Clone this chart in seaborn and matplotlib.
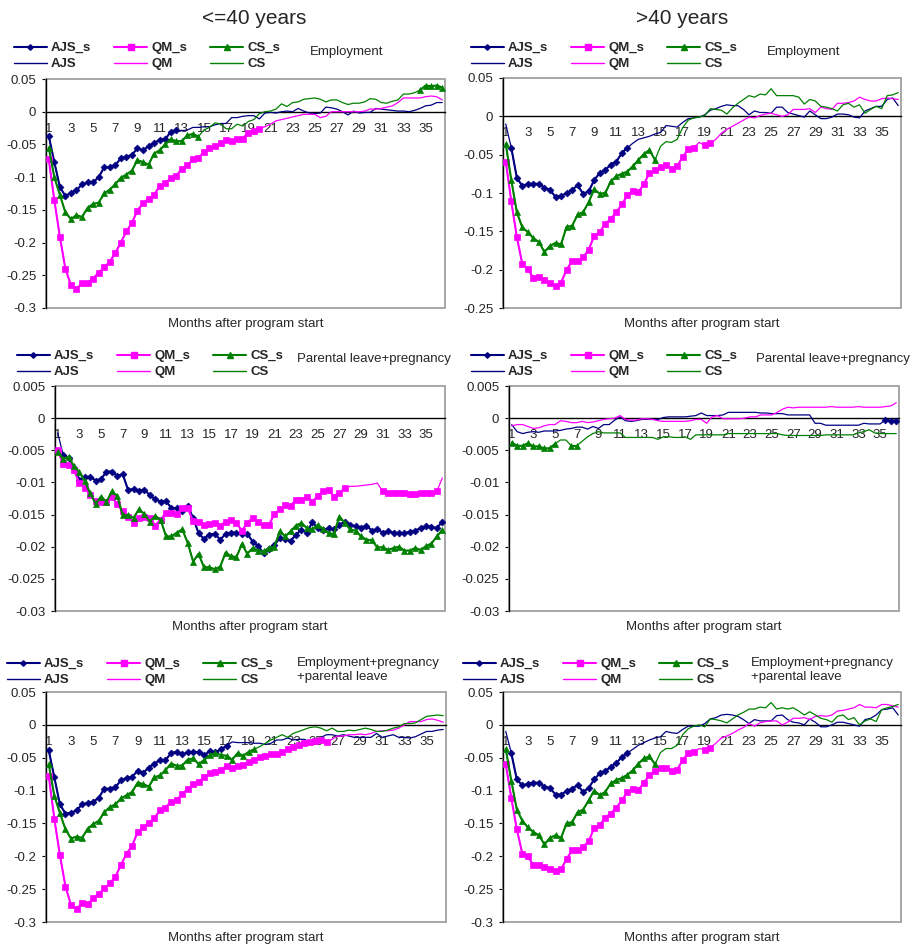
import numpy as np
import matplotlib
matplotlib.use("Agg")
import matplotlib.pyplot as plt
from matplotlib.lines import Line2D
from matplotlib.patches import Rectangle
from matplotlib.ticker import FuncFormatter
import seaborn as sns

# 72 half-month categories, labelled every second month
months = np.arange(1, 37, 0.5)
label_months = list(range(1, 37, 2))

col_titles = ["<=40 years", ">40 years"]
row_titles = ["Employment", "Parental leave+pregnancy", "Employment+pregnancy\n+parental leave"]
xlabel = "Months after program start"

# ---- Employment, <=40 years
emp_young_ajs = [
    -0.037, -0.077, -0.115, -0.129, -0.124, -0.120, -0.111, -0.108, -0.108, -0.100, -0.085, -0.085,
    -0.082, -0.071, -0.069, -0.066, -0.056, -0.059, -0.053, -0.048, -0.043, -0.042, -0.031, -0.028,
    -0.029, -0.028, -0.024, -0.024, -0.023, -0.023, -0.020, -0.018, -0.018, -0.009, -0.009, -0.007,
    -0.006, -0.006, -0.011, -0.002, -0.001, -0.002, 0.000, 0.001, 0.000, 0.005, 0.001, -0.002,
    -0.003, -0.002, 0.007, 0.006, 0.004, 0.000, -0.005, 0.001, -0.002, -0.001, -0.001, 0.005,
    0.004, 0.003, 0.002, 0.001, 0.001, 0.000, 0.002, 0.005, 0.009, 0.010, 0.014, 0.014]
emp_young_qm = [
    -0.073, -0.135, -0.191, -0.240, -0.265, -0.271, -0.262, -0.262, -0.255, -0.246, -0.238, -0.229,
    -0.216, -0.200, -0.183, -0.170, -0.151, -0.140, -0.133, -0.127, -0.114, -0.109, -0.102, -0.098,
    -0.087, -0.082, -0.073, -0.070, -0.062, -0.056, -0.052, -0.048, -0.043, -0.045, -0.041, -0.041,
    -0.032, -0.029, -0.026, -0.023, -0.019, -0.014, -0.012, -0.010, -0.008, -0.006, -0.004, -0.004,
    -0.004, -0.009, -0.007, 0.000, 0.000, 0.000, 0.000, 0.000, 0.000, 0.001, 0.004, 0.004,
    0.005, 0.007, 0.009, 0.014, 0.021, 0.021, 0.021, 0.021, 0.023, 0.024, 0.023, 0.018]
emp_young_cs = [
    -0.055, -0.100, -0.127, -0.154, -0.164, -0.158, -0.161, -0.147, -0.141, -0.139, -0.125, -0.119,
    -0.111, -0.101, -0.096, -0.090, -0.074, -0.077, -0.081, -0.064, -0.059, -0.050, -0.042, -0.045,
    -0.045, -0.036, -0.034, -0.038, -0.028, -0.024, -0.017, -0.019, -0.026, -0.026, -0.019, -0.022,
    -0.015, -0.012, -0.003, 0.000, 0.001, 0.004, 0.012, 0.008, 0.014, 0.015, 0.019, 0.020,
    0.021, 0.019, 0.015, 0.018, 0.018, 0.014, 0.011, 0.013, 0.013, 0.015, 0.020, 0.019,
    0.014, 0.013, 0.016, 0.018, 0.027, 0.027, 0.029, 0.033, 0.040, 0.039, 0.040, 0.037]
emp_young_sig = [[(0, 23)], [(0, 38)], [(0, 27), (67, 71)]]

# ---- Employment, >40 years
emp_old_ajs = [
    -0.010, -0.041, -0.080, -0.091, -0.088, -0.088, -0.088, -0.093, -0.096, -0.105, -0.104, -0.100,
    -0.096, -0.090, -0.101, -0.098, -0.083, -0.074, -0.070, -0.063, -0.059, -0.048, -0.041, -0.035,
    -0.030, -0.028, -0.026, -0.023, -0.021, -0.012, -0.013, -0.014, -0.008, -0.003, -0.002, -0.001,
    0.002, 0.008, 0.010, 0.013, 0.015, 0.014, 0.014, 0.009, 0.002, 0.007, 0.005, 0.005,
    0.004, 0.012, 0.012, 0.005, 0.003, 0.001, -0.001, 0.007, 0.002, -0.003, -0.003, -0.001,
    0.003, 0.003, 0.002, -0.001, -0.002, 0.007, 0.010, 0.013, 0.013, 0.022, 0.024, 0.014]
emp_old_qm = [
    -0.059, -0.111, -0.157, -0.193, -0.199, -0.211, -0.210, -0.214, -0.218, -0.221, -0.217, -0.200,
    -0.189, -0.189, -0.184, -0.174, -0.156, -0.151, -0.140, -0.134, -0.125, -0.115, -0.103, -0.097,
    -0.099, -0.088, -0.074, -0.070, -0.066, -0.063, -0.069, -0.065, -0.053, -0.043, -0.041, -0.034,
    -0.038, -0.035, -0.030, -0.022, -0.017, -0.013, -0.009, -0.005, -0.001, -0.002, 0.001, 0.003,
    0.004, 0.002, 0.000, 0.002, 0.009, 0.009, 0.009, 0.010, 0.005, 0.012, 0.010, 0.009,
    0.017, 0.017, 0.018, 0.020, 0.025, 0.022, 0.020, 0.020, 0.023, 0.024, 0.023, 0.022]
emp_old_cs = [
    -0.036, -0.083, -0.125, -0.145, -0.151, -0.159, -0.164, -0.177, -0.169, -0.165, -0.167, -0.144,
    -0.143, -0.128, -0.125, -0.112, -0.095, -0.101, -0.100, -0.085, -0.078, -0.075, -0.072, -0.065,
    -0.057, -0.049, -0.044, -0.057, -0.039, -0.033, -0.034, -0.030, -0.015, -0.005, -0.002, -0.001,
    0.001, 0.010, 0.009, 0.008, 0.003, 0.011, 0.017, 0.022, 0.027, 0.025, 0.029, 0.028,
    0.036, 0.027, 0.027, 0.027, 0.027, 0.025, 0.016, 0.022, 0.020, 0.013, 0.012, 0.010,
    0.007, 0.015, 0.017, 0.012, 0.015, 0.004, 0.009, 0.013, 0.010, 0.027, 0.028, 0.031]
emp_old_sig = [[(1, 22)], [(0, 34), (36, 37)], [(0, 27)]]

# ---- Parental leave+pregnancy, <=40 years
par_young_ajs = [
    -0.0023, -0.0057, -0.0062, -0.0078, -0.0096, -0.0092, -0.0091, -0.0097, -0.0095, -0.0083, -0.0083, -0.0090,
    -0.0087, -0.0112, -0.0110, -0.0113, -0.0111, -0.0120, -0.0126, -0.0130, -0.0129, -0.0140, -0.0140, -0.0144,
    -0.0137, -0.0155, -0.0179, -0.0188, -0.0181, -0.0180, -0.0189, -0.0180, -0.0178, -0.0178, -0.0180, -0.0180,
    -0.0192, -0.0199, -0.0210, -0.0204, -0.0197, -0.0187, -0.0188, -0.0191, -0.0181, -0.0174, -0.0178, -0.0162,
    -0.0171, -0.0174, -0.0171, -0.0173, -0.0166, -0.0161, -0.0166, -0.0168, -0.0171, -0.0167, -0.0175, -0.0173,
    -0.0178, -0.0176, -0.0178, -0.0179, -0.0179, -0.0177, -0.0175, -0.0171, -0.0168, -0.0169, -0.0171, -0.0161]
par_young_qm = [
    -0.0049, -0.0072, -0.0073, -0.0081, -0.0101, -0.0109, -0.0119, -0.0129, -0.0131, -0.0130, -0.0122, -0.0134,
    -0.0145, -0.0153, -0.0163, -0.0155, -0.0154, -0.0155, -0.0167, -0.0158, -0.0147, -0.0148, -0.0149, -0.0140,
    -0.0140, -0.0160, -0.0162, -0.0166, -0.0165, -0.0163, -0.0167, -0.0161, -0.0158, -0.0163, -0.0175, -0.0163,
    -0.0155, -0.0161, -0.0166, -0.0166, -0.0149, -0.0142, -0.0135, -0.0136, -0.0127, -0.0127, -0.0122, -0.0130,
    -0.0121, -0.0114, -0.0112, -0.0122, -0.0116, -0.0109, -0.0106, -0.0106, -0.0105, -0.0104, -0.0103, -0.0101,
    -0.0114, -0.0116, -0.0117, -0.0117, -0.0117, -0.0118, -0.0118, -0.0117, -0.0117, -0.0116, -0.0114, -0.0093]
par_young_cs = [
    -0.0052, -0.0064, -0.0060, -0.0075, -0.0084, -0.0098, -0.0117, -0.0133, -0.0122, -0.0130, -0.0114, -0.0121,
    -0.0151, -0.0151, -0.0155, -0.0142, -0.0149, -0.0161, -0.0152, -0.0158, -0.0184, -0.0184, -0.0178, -0.0173,
    -0.0194, -0.0223, -0.0211, -0.0232, -0.0232, -0.0235, -0.0231, -0.0209, -0.0215, -0.0216, -0.0196, -0.0211,
    -0.0202, -0.0206, -0.0207, -0.0202, -0.0200, -0.0176, -0.0184, -0.0176, -0.0167, -0.0163, -0.0171, -0.0173,
    -0.0166, -0.0172, -0.0179, -0.0180, -0.0153, -0.0163, -0.0173, -0.0175, -0.0184, -0.0189, -0.0190, -0.0201,
    -0.0201, -0.0205, -0.0202, -0.0200, -0.0206, -0.0206, -0.0202, -0.0205, -0.0199, -0.0195, -0.0184, -0.0174]
par_young_sig = [[(1, 71)], [(0, 53), (60, 70)], [(0, 71)]]

# ---- Parental leave+pregnancy, >40 years
par_old_ajs = [
    -0.0010, -0.0021, -0.0024, -0.0022, -0.0021, -0.0022, -0.0020, -0.0020, -0.0020, -0.0019, -0.0017, -0.0016,
    -0.0014, -0.0014, -0.0017, -0.0013, -0.0016, -0.0010, -0.0010, -0.0003, 0.0002, -0.0004, -0.0005, -0.0004,
    -0.0002, -0.0002, -0.0002, -0.0002, 0.0001, 0.0002, 0.0002, 0.0002, 0.0002, 0.0003, 0.0004, 0.0008,
    0.0004, 0.0004, 0.0004, 0.0005, 0.0009, 0.0009, 0.0009, 0.0009, 0.0009, 0.0009, 0.0008, 0.0008,
    0.0007, 0.0007, 0.0007, 0.0005, 0.0005, 0.0005, 0.0005, 0.0005, -0.0008, -0.0008, -0.0011, -0.0011,
    -0.0011, -0.0011, -0.0011, -0.0011, -0.0011, -0.0008, -0.0009, -0.0009, -0.0009, -0.0003, -0.0004, -0.0004]
par_old_qm = [
    -0.0012, -0.0010, -0.0010, -0.0013, -0.0016, -0.0015, -0.0012, -0.0010, -0.0010, -0.0004, -0.0005, -0.0007,
    -0.0007, -0.0005, -0.0007, -0.0006, -0.0004, -0.0002, -0.0001, 0.0000, 0.0004, -0.0002, -0.0003, -0.0003,
    -0.0001, -0.0001, -0.0002, -0.0004, -0.0005, -0.0005, -0.0005, -0.0005, -0.0005, -0.0004, -0.0002, -0.0002,
    -0.0008, 0.0002, 0.0004, -0.0001, -0.0001, -0.0001, -0.0001, 0.0000, 0.0002, 0.0002, 0.0005, 0.0005,
    0.0005, 0.0009, 0.0014, 0.0017, 0.0016, 0.0017, 0.0017, 0.0017, 0.0017, 0.0017, 0.0017, 0.0018,
    0.0017, 0.0017, 0.0017, 0.0017, 0.0018, 0.0017, 0.0017, 0.0017, 0.0017, 0.0018, 0.0019, 0.0024]
par_old_cs = [
    -0.0038, -0.0043, -0.0043, -0.0039, -0.0044, -0.0044, -0.0047, -0.0047, -0.0040, -0.0034, -0.0034, -0.0043,
    -0.0043, -0.0036, -0.0029, -0.0024, -0.0021, -0.0023, -0.0023, -0.0023, -0.0023, -0.0030, -0.0030, -0.0030,
    -0.0030, -0.0030, -0.0030, -0.0033, -0.0029, -0.0029, -0.0030, -0.0030, -0.0029, -0.0033, -0.0026, -0.0026,
    -0.0026, -0.0026, -0.0026, -0.0026, -0.0024, -0.0024, -0.0024, -0.0024, -0.0024, -0.0024, -0.0024, -0.0024,
    -0.0024, -0.0024, -0.0026, -0.0027, -0.0027, -0.0027, -0.0027, -0.0027, -0.0027, -0.0027, -0.0026, -0.0026,
    -0.0026, -0.0026, -0.0026, -0.0026, -0.0023, -0.0021, -0.0018, -0.0023, -0.0024, -0.0024, -0.0024, -0.0024]
par_old_sig = [[(69, 71)], [], [(0, 8), (11, 12)]]

# ---- Employment+pregnancy+parental leave, <=40 years
all_young_ajs = [
    -0.039, -0.080, -0.121, -0.135, -0.134, -0.130, -0.121, -0.119, -0.117, -0.111, -0.097, -0.097,
    -0.095, -0.084, -0.081, -0.079, -0.070, -0.073, -0.065, -0.059, -0.054, -0.054, -0.043, -0.041,
    -0.045, -0.042, -0.041, -0.042, -0.046, -0.040, -0.042, -0.037, -0.032, -0.026, -0.027, -0.027,
    -0.027, -0.028, -0.028, -0.030, -0.028, -0.023, -0.023, -0.020, -0.023, -0.022, -0.022, -0.026,
    -0.023, -0.019, -0.015, -0.015, -0.017, -0.015, -0.017, -0.019, -0.019, -0.019, -0.019, -0.013,
    -0.019, -0.017, -0.015, -0.019, -0.019, -0.020, -0.018, -0.014, -0.010, -0.010, -0.008, -0.007]
all_young_qm = [
    -0.078, -0.143, -0.198, -0.246, -0.274, -0.280, -0.271, -0.273, -0.264, -0.257, -0.249, -0.241,
    -0.231, -0.213, -0.196, -0.184, -0.163, -0.156, -0.149, -0.142, -0.130, -0.126, -0.117, -0.115,
    -0.105, -0.098, -0.090, -0.087, -0.079, -0.074, -0.071, -0.068, -0.063, -0.065, -0.063, -0.061,
    -0.056, -0.053, -0.049, -0.047, -0.045, -0.045, -0.042, -0.037, -0.034, -0.031, -0.028, -0.026,
    -0.024, -0.023, -0.026, -0.022, -0.017, -0.017, -0.015, -0.015, -0.014, -0.015, -0.013, -0.010,
    -0.009, -0.009, -0.008, -0.005, 0.000, 0.005, 0.005, 0.005, 0.008, 0.009, 0.007, 0.004]
all_young_cs = [
    -0.060, -0.108, -0.134, -0.159, -0.173, -0.170, -0.172, -0.158, -0.151, -0.146, -0.133, -0.125,
    -0.121, -0.112, -0.107, -0.102, -0.088, -0.090, -0.094, -0.080, -0.077, -0.069, -0.059, -0.062,
    -0.062, -0.053, -0.051, -0.060, -0.053, -0.046, -0.043, -0.046, -0.047, -0.053, -0.043, -0.047,
    -0.041, -0.037, -0.033, -0.028, -0.023, -0.019, -0.015, -0.019, -0.013, -0.010, -0.007, -0.004,
    -0.003, -0.005, -0.009, -0.005, -0.010, -0.010, -0.008, -0.009, -0.007, -0.005, -0.007, -0.010,
    -0.010, -0.008, -0.005, -0.003, 0.002, 0.002, 0.003, 0.008, 0.013, 0.014, 0.015, 0.014]
all_young_sig = [[(0, 32)], [(0, 50)], [(0, 37)]]

# ---- Employment+pregnancy+parental leave, >40 years
all_old_ajs = [
    -0.010, -0.043, -0.083, -0.092, -0.090, -0.088, -0.088, -0.094, -0.096, -0.106, -0.106, -0.101,
    -0.097, -0.092, -0.102, -0.096, -0.083, -0.074, -0.070, -0.064, -0.058, -0.049, -0.043, -0.037,
    -0.031, -0.027, -0.023, -0.020, -0.018, -0.010, -0.012, -0.013, -0.007, -0.002, -0.002, -0.002,
    0.002, 0.009, 0.011, 0.015, 0.016, 0.015, 0.013, 0.008, 0.002, 0.008, 0.006, 0.006,
    0.006, 0.014, 0.015, 0.008, 0.004, 0.003, 0.000, 0.009, 0.004, -0.003, -0.003, 0.000,
    0.004, 0.004, 0.002, 0.000, -0.002, 0.008, 0.010, 0.015, 0.023, 0.024, 0.026, 0.015]
all_old_qm = [
    -0.060, -0.111, -0.159, -0.196, -0.200, -0.214, -0.213, -0.217, -0.219, -0.222, -0.220, -0.204,
    -0.191, -0.191, -0.186, -0.177, -0.157, -0.153, -0.141, -0.135, -0.126, -0.115, -0.102, -0.097,
    -0.099, -0.088, -0.076, -0.070, -0.066, -0.065, -0.070, -0.068, -0.054, -0.043, -0.041, -0.036,
    -0.038, -0.035, -0.028, -0.020, -0.017, -0.013, -0.008, -0.004, 0.002, -0.002, 0.003, 0.005,
    0.006, 0.006, 0.000, 0.004, 0.010, 0.010, 0.011, 0.008, 0.013, 0.014, 0.013, 0.015,
    0.021, 0.022, 0.024, 0.026, 0.031, 0.027, 0.027, 0.026, 0.031, 0.031, 0.029, 0.027]
all_old_cs = [
    -0.037, -0.085, -0.129, -0.146, -0.156, -0.163, -0.168, -0.182, -0.172, -0.168, -0.172, -0.150,
    -0.148, -0.133, -0.129, -0.115, -0.100, -0.107, -0.102, -0.089, -0.084, -0.081, -0.076, -0.069,
    -0.059, -0.051, -0.048, -0.060, -0.042, -0.036, -0.036, -0.031, -0.015, -0.006, -0.002, 0.000,
    -0.003, 0.009, 0.008, 0.006, 0.003, 0.009, 0.015, 0.019, 0.024, 0.024, 0.027, 0.026,
    0.034, 0.024, 0.026, 0.024, 0.026, 0.021, 0.015, 0.020, 0.015, 0.010, 0.008, 0.004,
    0.013, 0.015, 0.008, 0.011, 0.000, 0.006, 0.009, 0.005, 0.023, 0.026, 0.028, 0.031]
all_old_sig = [[(1, 22)], [(0, 34), (36, 37)], [(0, 27)]]

# ---------------------------------------------------------------- styling
sns.set_style("white")
plt.rcParams["font.family"] = ["Liberation Sans", "DejaVu Sans"]
plt.rcParams["font.size"] = 9

W, H = 911, 947
colors = ["#000080", "#FF00FF", "#008000"]
markers = ["D", "s", "^"]
msizes = [3.5, 5.0, 5.0]
names = ["AJS", "QM", "CS"]


def fx(px):
    return px / W


def fy(py):
    return 1 - py / H


panels = [
    dict(series=(emp_young_ajs, emp_young_qm, emp_young_cs), sig=emp_young_sig, ylim=(-0.3, 0.05), step=0.05,
         title=row_titles[0], box=(46, 79, 445, 308), leg=(14, 40), ttl=(310, 52)),
    dict(series=(emp_old_ajs, emp_old_qm, emp_old_cs), sig=emp_old_sig, ylim=(-0.25, 0.05), step=0.05,
         title=row_titles[0], box=(503, 78, 901, 308), leg=(471, 40), ttl=(767, 52)),
    dict(series=(par_young_ajs, par_young_qm, par_young_cs), sig=par_young_sig, ylim=(-0.03, 0.005), step=0.005,
         title=row_titles[1], box=(55, 386, 445, 611), leg=(17, 348), ttl=(297, 359)),
    dict(series=(par_old_ajs, par_old_qm, par_old_cs), sig=par_old_sig, ylim=(-0.03, 0.005), step=0.005,
         title=row_titles[1], box=(509, 386, 899, 611), leg=(471, 348), ttl=(756, 359)),
    dict(series=(all_young_ajs, all_young_qm, all_young_cs), sig=all_young_sig, ylim=(-0.3, 0.05), step=0.05,
         title=row_titles[2], box=(46, 692, 446, 922), leg=(7, 656), ttl=(297, 670)),
    dict(series=(all_old_ajs, all_old_qm, all_old_cs), sig=all_old_sig, ylim=(-0.3, 0.05), step=0.05,
         title=row_titles[2], box=(503, 692, 901, 922), leg=(463, 656), ttl=(751, 670)),
]

fig = plt.figure(figsize=(W / 100, H / 100), dpi=100)

fig.text(fx(254), fy(19), col_titles[0], ha="center", va="center", fontsize=15)
fig.text(fx(682), fy(19), col_titles[1], ha="center", va="center", fontsize=15)

ytick_fmt = FuncFormatter(lambda v, _: "0" if abs(v) < 1e-9 else f"{round(v, 4):g}")

for p in panels:
    l, t, r, b = p["box"]
    ax = fig.add_axes([fx(l), fy(b), fx(r - l), (b - t) / H])

    for vals, sig, c, m, ms in zip(p["series"], p["sig"], colors, markers, msizes):
        sns.lineplot(x=months, y=vals, ax=ax, color=c, linewidth=0.9, legend=False, zorder=3)
        for a, e in sig:
            sns.lineplot(x=months[a:e + 1], y=vals[a:e + 1], ax=ax, color=c, linewidth=1.5,
                         marker=m, markersize=ms, markeredgecolor=c, markeredgewidth=0.5,
                         legend=False, zorder=4)

    lo, hi = p["ylim"]
    ax.set_xlim(0.75, 36.75)
    ax.set_ylim(lo, hi)
    ax.set_yticks(np.round(np.arange(lo, hi + p["step"] / 2, p["step"]), 4))
    ax.yaxis.set_major_formatter(ytick_fmt)
    ax.set_xticks(label_months)
    ax.set_xticklabels([str(v) for v in label_months])
    ax.set_xticks(np.arange(0.75, 36.8, 0.5), minor=True)
    ax.set_xlabel("")
    ax.set_ylabel("")

    ax.spines["bottom"].set_position(("data", 0))
    ax.spines["bottom"].set_color("black")
    ax.spines["bottom"].set_linewidth(1.0)
    ax.spines["bottom"].set_zorder(2)
    ax.spines["left"].set_color("black")
    ax.spines["left"].set_linewidth(1.0)
    ax.spines["top"].set_visible(False)
    ax.spines["right"].set_visible(False)
    ax.add_patch(Rectangle((0, 0), 1, 1, transform=ax.transAxes, fill=False,
                           edgecolor="#a0a0a0", linewidth=1.3, zorder=1, clip_on=False))

    ax.tick_params(axis="x", which="major", length=0, pad=8, labelsize=9.5)
    ax.tick_params(axis="x", which="minor", length=2.5, width=0.8, direction="out", color="black")
    ax.tick_params(axis="y", which="major", length=3, width=0.8, direction="out", color="black",
                   pad=4, labelsize=9.5, left=True)
    ax.grid(False)

    ax.annotate(xlabel, xy=(0.5, 0), xycoords="axes fraction", xytext=(0, -11.5),
                textcoords="offset points", ha="center", va="center", fontsize=9.5)

    handles = []
    for c, m, ms, n in zip(colors, markers, msizes, names):
        handles.append(Line2D([], [], color=c, linewidth=1.5, marker=m, markersize=ms * 0.8,
                              markeredgecolor=c, label=n + "_s"))
        handles.append(Line2D([], [], color=c, linewidth=1.0, label=n))
    lx, ly = p["leg"]
    fig.legend(handles=handles, loc="upper left", bbox_to_anchor=(fx(lx), fy(ly + 2)),
               bbox_transform=fig.transFigure, ncol=3, frameon=False, borderpad=0,
               borderaxespad=0, handlelength=2.5, handletextpad=0.3, columnspacing=1.75,
               labelspacing=0.3, prop={"weight": "bold", "size": 9.5})

    tx, ty = p["ttl"]
    fig.text(fx(tx), fy(ty), p["title"], ha="left", va="center", fontsize=9.5, linespacing=1.25)

fig.savefig("out.png", dpi=100)
